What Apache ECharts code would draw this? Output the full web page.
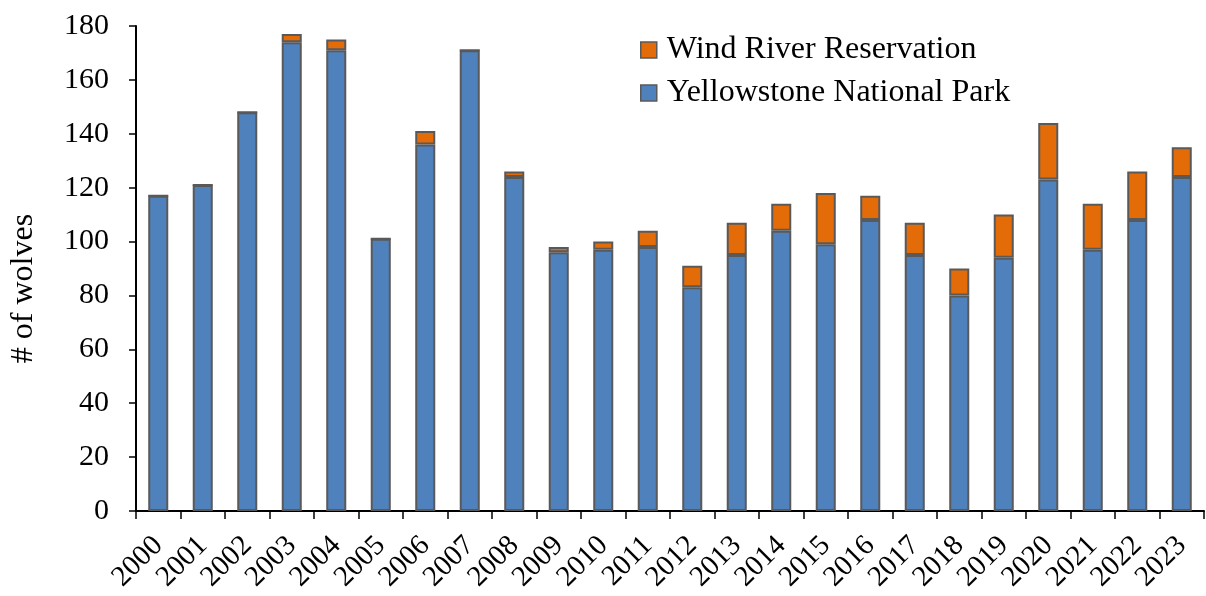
<!DOCTYPE html>
<html>
<head>
<meta charset="utf-8">
<script src="https://cdn.jsdelivr.net/npm/echarts@6.0.0/dist/echarts.min.js"></script>
<style>
  html, body { margin:0; padding:0; background:#fff; }
  #chart { width:1206px; height:596px; }
</style>
</head>
<body>
<div id="chart"></div>
<script>
const years = ['2000','2001','2002','2003','2004','2005','2006','2007','2008','2009','2010','2011',
               '2012','2013','2014','2015','2016','2017','2018','2019','2020','2021','2022','2023'];
const yellowstone = [117,121,148,174,171,101,136,171,124,96,97,98,83,95,104,99,108,95,80,94,123,97,108,124];
const windRiver   = [0,0,0,3,4,0,5,0,2,2,3,6,8,12,10,19,9,12,10,16,21,17,18,11];

const font = 'Liberation Serif, Times New Roman, serif';
const border = { borderColor:'#595959', borderWidth:2 };

const chart = echarts.init(document.getElementById('chart'), null, { renderer:'canvas' });
chart.setOption({
  animation: false,
  backgroundColor: '#fff',
  textStyle: { fontFamily: font },
  grid: { left:136, right:2, top:26, bottom:85, containLabel:false, outerBoundsMode:'none' },
  legend: {
    orient: 'vertical',
    left: 640, top: 32,
    padding: 0,
    icon: 'rect',
    itemWidth: 16, itemHeight: 16, itemGap: 7,
    data: ['Wind River Reservation','Yellowstone National Park'],
    itemStyle: { borderColor:'#595959', borderWidth:1.5 },
    textStyle: { fontFamily:font, fontSize:32, color:'#000', padding:[0,0,0,5], lineHeight:36 }
  },
  xAxis: {
    type: 'category',
    data: years,
    axisLine: { lineStyle:{ color:'#000', width:2 } },
    axisTick: { show:true, length:8, lineStyle:{ color:'#000', width:1.5 } },
    axisLabel: { rotate:45, fontFamily:font, fontSize:29, color:'#000', margin:30, interval:0 }
  },
  yAxis: {
    type: 'value',
    min: 0, max: 180, interval: 20,
    name: '# of wolves',
    nameLocation: 'middle',
    nameGap: 96,
    nameRotate: 90,
    nameTextStyle: { fontFamily:font, fontSize:32, color:'#000', padding:[0,40,0,0] },
    axisLine: { show:true, lineStyle:{ color:'#000', width:2 } },
    axisTick: { show:true, length:7, lineStyle:{ color:'#000', width:1.5 } },
    axisLabel: { fontFamily:font, fontSize:30, color:'#000', margin:27 },
    splitLine: { show:false }
  },
  series: [
    { name:'Yellowstone National Park', type:'bar', stack:'w', barWidth:'45%',
      data: yellowstone, itemStyle:Object.assign({ color:'#4f81bd' }, border) },
    { name:'Wind River Reservation', type:'bar', stack:'w', barWidth:'45%',
      data: windRiver, itemStyle:Object.assign({ color:'#e36c09' }, border) }
  ]
});
</script>
</body>
</html>
